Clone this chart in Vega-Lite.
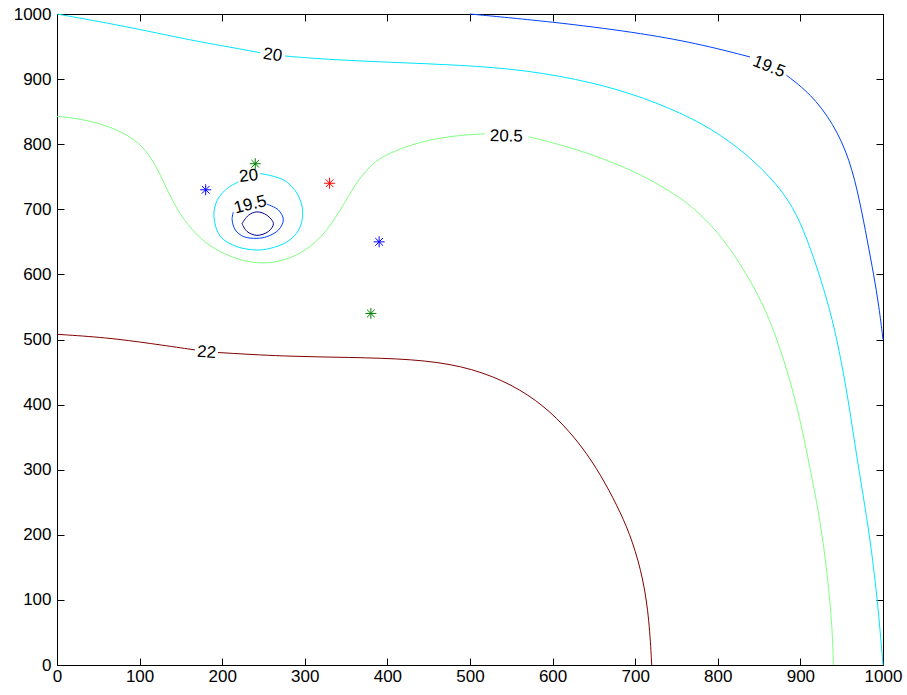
{
 "$schema": "https://vega.github.io/schema/vega-lite/v6.json",
 "width": 826, "height": 651,
 "autosize": {"type": "none"},
 "padding": {"left": 57, "top": 14, "right": 24, "bottom": 30},
 "config": {
  "font": "Liberation Sans",
  "view": {"stroke": "black", "strokeWidth": 1},
  "axis": {"grid": false, "domainColor": "black", "tickColor": "black", "labelColor": "black", "labelFontSize": 17, "labelFont": "Liberation Sans", "tickSize": -7, "domainWidth": 1, "tickWidth": 1, "format": "d"}
 },
 "layer": [
  {
   "data": {"values": [
    {"seg": 1, "lev": "20", "x": 0, "y": 1000}, {"seg": 1, "lev": "20", "x": 81, "y": 981.6}, {"seg": 1, "lev": "20", "x": 161, "y": 960}, {"seg": 1, "lev": "20", "x": 202, "y": 950.8}, {"seg": 1, "lev": "20", "x": 246, "y": 940.6},
    {"seg": 2, "lev": "20", "x": 276, "y": 935.5}, {"seg": 2, "lev": "20", "x": 323, "y": 930.4}, {"seg": 2, "lev": "20", "x": 403, "y": 925.8}, {"seg": 2, "lev": "20", "x": 488, "y": 921.7}, {"seg": 2, "lev": "20", "x": 569, "y": 914}, {"seg": 2, "lev": "20", "x": 649, "y": 895}, {"seg": 2, "lev": "20", "x": 710, "y": 872}, {"seg": 2, "lev": "20", "x": 770, "y": 840}, {"seg": 2, "lev": "20", "x": 815, "y": 805}, {"seg": 2, "lev": "20", "x": 855, "y": 762}, {"seg": 2, "lev": "20", "x": 887, "y": 714}, {"seg": 2, "lev": "20", "x": 904, "y": 668}, {"seg": 2, "lev": "20", "x": 920, "y": 612}, {"seg": 2, "lev": "20", "x": 936, "y": 545}, {"seg": 2, "lev": "20", "x": 947, "y": 484}, {"seg": 2, "lev": "20", "x": 958, "y": 407}, {"seg": 2, "lev": "20", "x": 967, "y": 330}, {"seg": 2, "lev": "20", "x": 976, "y": 260}, {"seg": 2, "lev": "20", "x": 984, "y": 197}, {"seg": 2, "lev": "20", "x": 993, "y": 105}, {"seg": 2, "lev": "20", "x": 1000, "y": 0},
    {"seg": 3, "lev": "19.5", "x": 500, "y": 1000}, {"seg": 3, "lev": "19.5", "x": 600, "y": 988}, {"seg": 3, "lev": "19.5", "x": 700, "y": 972}, {"seg": 3, "lev": "19.5", "x": 775, "y": 955}, {"seg": 3, "lev": "19.5", "x": 839, "y": 934},
    {"seg": 4, "lev": "19.5", "x": 883, "y": 906}, {"seg": 4, "lev": "19.5", "x": 912, "y": 878}, {"seg": 4, "lev": "19.5", "x": 940, "y": 832}, {"seg": 4, "lev": "19.5", "x": 960, "y": 776}, {"seg": 4, "lev": "19.5", "x": 972, "y": 712}, {"seg": 4, "lev": "19.5", "x": 981, "y": 652}, {"seg": 4, "lev": "19.5", "x": 989, "y": 598}, {"seg": 4, "lev": "19.5", "x": 995, "y": 552}, {"seg": 4, "lev": "19.5", "x": 1000, "y": 500},
    {"seg": 5, "lev": "20.5", "x": 0, "y": 843}, {"seg": 5, "lev": "20.5", "x": 40, "y": 837}, {"seg": 5, "lev": "20.5", "x": 81, "y": 819}, {"seg": 5, "lev": "20.5", "x": 105, "y": 796}, {"seg": 5, "lev": "20.5", "x": 121, "y": 765}, {"seg": 5, "lev": "20.5", "x": 137, "y": 719}, {"seg": 5, "lev": "20.5", "x": 153, "y": 684}, {"seg": 5, "lev": "20.5", "x": 174, "y": 653}, {"seg": 5, "lev": "20.5", "x": 202, "y": 630}, {"seg": 5, "lev": "20.5", "x": 242, "y": 614}, {"seg": 5, "lev": "20.5", "x": 282, "y": 622}, {"seg": 5, "lev": "20.5", "x": 315, "y": 648}, {"seg": 5, "lev": "20.5", "x": 339, "y": 689}, {"seg": 5, "lev": "20.5", "x": 359, "y": 735}, {"seg": 5, "lev": "20.5", "x": 379, "y": 768}, {"seg": 5, "lev": "20.5", "x": 400, "y": 786}, {"seg": 5, "lev": "20.5", "x": 444, "y": 806}, {"seg": 5, "lev": "20.5", "x": 488, "y": 814}, {"seg": 5, "lev": "20.5", "x": 518, "y": 816},
    {"seg": 6, "lev": "20.5", "x": 571, "y": 811.5}, {"seg": 6, "lev": "20.5", "x": 629, "y": 793}, {"seg": 6, "lev": "20.5", "x": 690, "y": 764}, {"seg": 6, "lev": "20.5", "x": 735, "y": 734}, {"seg": 6, "lev": "20.5", "x": 768, "y": 706}, {"seg": 6, "lev": "20.5", "x": 800, "y": 666}, {"seg": 6, "lev": "20.5", "x": 827, "y": 617}, {"seg": 6, "lev": "20.5", "x": 854, "y": 558}, {"seg": 6, "lev": "20.5", "x": 872, "y": 500}, {"seg": 6, "lev": "20.5", "x": 887, "y": 440}, {"seg": 6, "lev": "20.5", "x": 900, "y": 376}, {"seg": 6, "lev": "20.5", "x": 912, "y": 300}, {"seg": 6, "lev": "20.5", "x": 924, "y": 223}, {"seg": 6, "lev": "20.5", "x": 933, "y": 136}, {"seg": 6, "lev": "20.5", "x": 938.5, "y": 59}, {"seg": 6, "lev": "20.5", "x": 940, "y": 0},
    {"seg": 7, "lev": "22", "x": 0, "y": 508}, {"seg": 7, "lev": "22", "x": 60, "y": 503}, {"seg": 7, "lev": "22", "x": 113, "y": 494}, {"seg": 7, "lev": "22", "x": 167, "y": 484},
    {"seg": 8, "lev": "22", "x": 195, "y": 480}, {"seg": 8, "lev": "22", "x": 274, "y": 474}, {"seg": 8, "lev": "22", "x": 355, "y": 472.6}, {"seg": 8, "lev": "22", "x": 431, "y": 470}, {"seg": 8, "lev": "22", "x": 490, "y": 460}, {"seg": 8, "lev": "22", "x": 540, "y": 438}, {"seg": 8, "lev": "22", "x": 581, "y": 407}, {"seg": 8, "lev": "22", "x": 613, "y": 370}, {"seg": 8, "lev": "22", "x": 642, "y": 325}, {"seg": 8, "lev": "22", "x": 664, "y": 279}, {"seg": 8, "lev": "22", "x": 682, "y": 235}, {"seg": 8, "lev": "22", "x": 697, "y": 190}, {"seg": 8, "lev": "22", "x": 710, "y": 131}, {"seg": 8, "lev": "22", "x": 717, "y": 69}, {"seg": 8, "lev": "22", "x": 720, "y": 0}
   ]},
   "transform": [{"window": [{"op": "row_number", "as": "i"}]}],
   "mark": {"type": "line", "strokeWidth": 1, "interpolate": "basis"},
   "encoding": {
    "x": {"field": "x", "type": "quantitative", "title": null, "scale": {"domain": [0, 1000], "nice": false, "zero": false}, "axis": {"orient": "bottom", "values": [0, 100, 200, 300, 400, 500, 600, 700, 800, 900, 1000], "labelPadding": 10, "labelFlush": false, "labelOverlap": false}},
    "y": {"field": "y", "type": "quantitative", "title": null, "scale": {"domain": [0, 1000], "nice": false, "zero": false}, "axis": {"orient": "left", "values": [0, 100, 200, 300, 400, 500, 600, 700, 800, 900, 1000], "labelPadding": 13, "labelFlush": false, "labelOverlap": false}},
    "detail": {"field": "seg", "type": "nominal"},
    "order": {"field": "i", "type": "quantitative"},
    "color": {"field": "lev", "type": "nominal", "legend": null, "scale": {"domain": ["19", "19.5", "20", "20.5", "22"], "range": ["#00008f", "#0040ff", "#00e5ff", "#80ff80", "#800000"]}}
   }
  },
  {
   "data": {"values": [
    {"seg": 9, "lev": "20", "x": 246, "y": 755}, {"seg": 9, "lev": "20", "x": 274.5, "y": 745}, {"seg": 9, "lev": "20", "x": 290.6, "y": 724.5}, {"seg": 9, "lev": "20", "x": 297.5, "y": 696}, {"seg": 9, "lev": "20", "x": 292.6, "y": 668}, {"seg": 9, "lev": "20", "x": 278.5, "y": 650}, {"seg": 9, "lev": "20", "x": 258, "y": 640}, {"seg": 9, "lev": "20", "x": 242, "y": 637.5}, {"seg": 9, "lev": "20", "x": 218, "y": 642.6}, {"seg": 9, "lev": "20", "x": 198, "y": 658}, {"seg": 9, "lev": "20", "x": 190, "y": 688.6}, {"seg": 9, "lev": "20", "x": 194, "y": 714}, {"seg": 9, "lev": "20", "x": 206, "y": 732}, {"seg": 9, "lev": "20", "x": 220, "y": 742.4},
    {"seg": 10, "lev": "19.5", "x": 254, "y": 708}, {"seg": 10, "lev": "19.5", "x": 268, "y": 699}, {"seg": 10, "lev": "19.5", "x": 274, "y": 684}, {"seg": 10, "lev": "19.5", "x": 268, "y": 668}, {"seg": 10, "lev": "19.5", "x": 254, "y": 658}, {"seg": 10, "lev": "19.5", "x": 242, "y": 655.4}, {"seg": 10, "lev": "19.5", "x": 226, "y": 658}, {"seg": 10, "lev": "19.5", "x": 216, "y": 668}, {"seg": 10, "lev": "19.5", "x": 212, "y": 684}, {"seg": 10, "lev": "19.5", "x": 213.5, "y": 696},
    {"seg": 11, "lev": "19", "x": 224, "y": 678}, {"seg": 11, "lev": "19", "x": 232, "y": 691}, {"seg": 11, "lev": "19", "x": 242, "y": 696}, {"seg": 11, "lev": "19", "x": 254, "y": 691}, {"seg": 11, "lev": "19", "x": 262, "y": 678}, {"seg": 11, "lev": "19", "x": 256, "y": 666}, {"seg": 11, "lev": "19", "x": 242, "y": 660}, {"seg": 11, "lev": "19", "x": 230, "y": 666}, {"seg": 11, "lev": "19", "x": 224, "y": 678}
   ]},
   "transform": [{"window": [{"op": "row_number", "as": "i"}]}],
   "mark": {"type": "line", "strokeWidth": 1, "interpolate": "catmull-rom"},
   "encoding": {
    "x": {"field": "x", "type": "quantitative", "axis": null},
    "y": {"field": "y", "type": "quantitative", "axis": null},
    "detail": {"field": "seg", "type": "nominal"},
    "order": {"field": "i", "type": "quantitative"},
    "color": {"field": "lev", "type": "nominal", "legend": null, "scale": {"domain": ["19", "19.5", "20", "20.5", "22"], "range": ["#00008f", "#0040ff", "#00e5ff", "#80ff80", "#800000"]}}
   }
  },
  {
   "data": {"values": [
    {"x": 180, "y": 730, "g": "b"}, {"x": 240, "y": 770, "g": "g"}, {"x": 330, "y": 740, "g": "r"}, {"x": 390, "y": 650, "g": "b"}, {"x": 380, "y": 540, "g": "g"}
   ]},
   "mark": {"type": "point", "shape": "M-1,0L1,0M0,-1L0,1M-0.7,-0.7L0.7,0.7M-0.7,0.7L0.7,-0.7", "size": 121, "strokeWidth": 1, "filled": false, "opacity": 1},
   "encoding": {
    "x": {"field": "x", "type": "quantitative", "title": null, "scale": {"domain": [0, 1000], "nice": false, "zero": false}, "axis": {"orient": "top", "labels": false, "values": [0, 100, 200, 300, 400, 500, 600, 700, 800, 900, 1000]}},
    "y": {"field": "y", "type": "quantitative", "title": null, "scale": {"domain": [0, 1000], "nice": false, "zero": false}, "axis": {"orient": "right", "labels": false, "values": [0, 100, 200, 300, 400, 500, 600, 700, 800, 900, 1000]}},
    "color": {"field": "g", "type": "nominal", "legend": null, "scale": {"domain": ["b", "g", "r"], "range": ["#0000ff", "#008000", "#ff0000"]}}
   }
  },
  {
   "data": {"values": [{"x": 261, "y": 937, "t": "20"}]},
   "mark": {"type": "text", "fontSize": 17, "angle": 8, "align": "center", "baseline": "middle", "color": "black"},
   "encoding": {"x": {"field": "x", "type": "quantitative", "axis": null}, "y": {"field": "y", "type": "quantitative", "axis": null}, "text": {"field": "t"}}
  },
  {
   "data": {"values": [{"x": 862, "y": 919, "t": "19.5"}]},
   "mark": {"type": "text", "fontSize": 17, "angle": 22, "align": "center", "baseline": "middle", "color": "black"},
   "encoding": {"x": {"field": "x", "type": "quantitative", "axis": null}, "y": {"field": "y", "type": "quantitative", "axis": null}, "text": {"field": "t"}}
  },
  {
   "data": {"values": [{"x": 544, "y": 812, "t": "20.5"}]},
   "mark": {"type": "text", "fontSize": 17, "angle": 1, "align": "center", "baseline": "middle", "color": "black"},
   "encoding": {"x": {"field": "x", "type": "quantitative", "axis": null}, "y": {"field": "y", "type": "quantitative", "axis": null}, "text": {"field": "t"}}
  },
  {
   "data": {"values": [{"x": 181, "y": 480, "t": "22"}]},
   "mark": {"type": "text", "fontSize": 17, "angle": 4, "align": "center", "baseline": "middle", "color": "black"},
   "encoding": {"x": {"field": "x", "type": "quantitative", "axis": null}, "y": {"field": "y", "type": "quantitative", "axis": null}, "text": {"field": "t"}}
  },
  {
   "data": {"values": [{"x": 232, "y": 751, "t": "20"}]},
   "mark": {"type": "text", "fontSize": 17, "angle": -6, "align": "center", "baseline": "middle", "color": "black"},
   "encoding": {"x": {"field": "x", "type": "quantitative", "axis": null}, "y": {"field": "y", "type": "quantitative", "axis": null}, "text": {"field": "t"}}
  },
  {
   "data": {"values": [{"x": 234, "y": 707, "t": "19.5"}]},
   "mark": {"type": "text", "fontSize": 17, "angle": -14, "align": "center", "baseline": "middle", "color": "black"},
   "encoding": {"x": {"field": "x", "type": "quantitative", "axis": null}, "y": {"field": "y", "type": "quantitative", "axis": null}, "text": {"field": "t"}}
  }
 ],
 "resolve": {"axis": {"x": "independent", "y": "independent"}, "scale": {"color": "independent"}}
}
